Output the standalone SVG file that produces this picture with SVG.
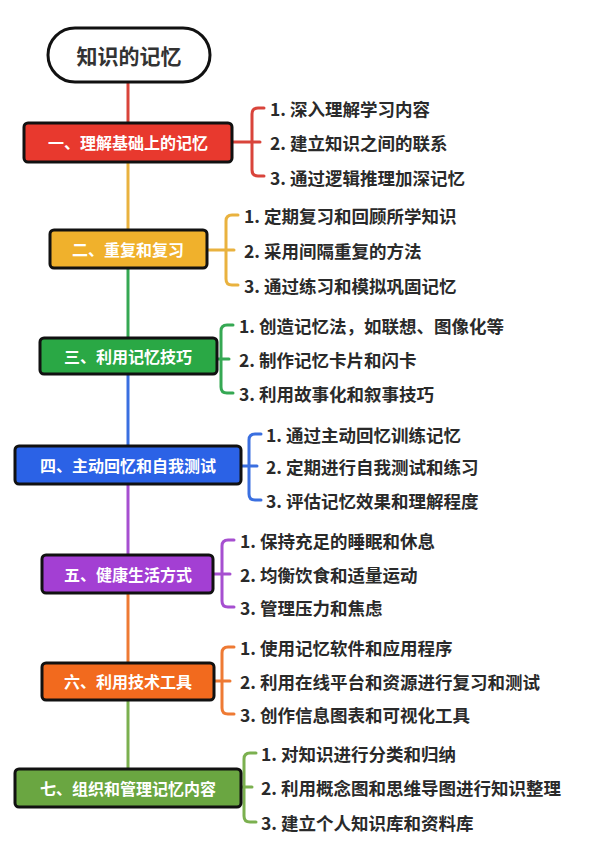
<svg xmlns="http://www.w3.org/2000/svg" width="600" height="854" viewBox="0 0 600 854">
<style>
text{font-family:"Noto Sans CJK SC","Noto Sans",sans-serif;font-weight:bold}
.box{stroke:#111;stroke-width:3}
.t{fill:#fff;font-size:16px;text-anchor:middle;dominant-baseline:central}
.i{fill:#2a2a2a;font-size:17.5px;dominant-baseline:central}
.c{fill:none;stroke-width:3;stroke-linecap:round}
</style>
<rect width="600" height="854" fill="#fff"/>
<g id="connectors">
<line x1="128" y1="82" x2="128" y2="124" stroke="#d9443b" stroke-width="3"/>
<line x1="128" y1="162" x2="128" y2="230" stroke="#e9b23f" stroke-width="3"/>
<line x1="128" y1="268" x2="128" y2="338" stroke="#35a853" stroke-width="3"/>
<line x1="128" y1="374" x2="128" y2="446" stroke="#3a6fe0" stroke-width="3"/>
<line x1="128" y1="484" x2="128" y2="555" stroke="#a64fd0" stroke-width="3"/>
<line x1="128" y1="593" x2="128" y2="663" stroke="#ee7a34" stroke-width="3"/>
<line x1="128" y1="700" x2="128" y2="769" stroke="#7bb04f" stroke-width="3"/>
<path class="c" stroke="#d9443b" d="M232 142H260M264 108h-6q-6 0-6 6v56q0 6 6 6h6"/>
<path class="c" stroke="#e9b23f" d="M207 250H234M238 215h-6q-6 0-6 6v58q0 6 6 6h6"/>
<path class="c" stroke="#35a853" d="M217 359H229M233 325h-6q-6 0-6 6v56q0 6 6 6h6"/>
<path class="c" stroke="#3a6fe0" d="M241 466H257M261 434h-6q-6 0-6 6v54q0 6 6 6h6"/>
<path class="c" stroke="#a64fd0" d="M213 574H230M234 540h-6q-6 0-6 6v55q0 6 6 6h6"/>
<path class="c" stroke="#ee7a34" d="M214 681H230M234 647h-6q-6 0-6 6v55q0 6 6 6h6"/>
<path class="c" stroke="#7bb04f" d="M241 787H252M256 753h-6q-6 0-6 6v57q0 6 6 6h6"/>
</g>
<g id="root"><rect x="48" y="28" width="162" height="54" rx="27" fill="#fff" stroke="#111" stroke-width="3"/><text x="129" y="55" font-size="21" fill="#333" text-anchor="middle" dominant-baseline="central">知识的记忆</text></g>
<g id="n1"><rect class="box" x="24" y="123" width="208" height="39" rx="4" fill="#e8392e"/><text class="t" x="128" y="142">一、理解基础上的记忆</text>
<text class="i" x="270" y="108">1. 深入理解学习内容</text><text class="i" x="270" y="142">2. 建立知识之间的联系</text><text class="i" x="270" y="177">3. 通过逻辑推理加深记忆</text></g>
<g id="n2"><rect class="box" x="50" y="230" width="157" height="38" rx="4" fill="#f0b12c"/><text class="t" x="128" y="249">二、重复和复习</text>
<text class="i" x="244" y="215">1. 定期复习和回顾所学知识</text><text class="i" x="244" y="250">2. 采用间隔重复的方法</text><text class="i" x="244" y="285">3. 通过练习和模拟巩固记忆</text></g>
<g id="n3"><rect class="box" x="40" y="338" width="177" height="36" rx="4" fill="#2aa845"/><text class="t" x="128" y="356">三、利用记忆技巧</text>
<text class="i" x="239" y="325">1. 创造记忆法，如联想、图像化等</text><text class="i" x="239" y="359">2. 制作记忆卡片和闪卡</text><text class="i" x="239" y="393">3. 利用故事化和叙事技巧</text></g>
<g id="n4"><rect class="box" x="15" y="446" width="226" height="38" rx="4" fill="#2b62e6"/><text class="t" x="128" y="465">四、主动回忆和自我测试</text>
<text class="i" x="266" y="434">1. 通过主动回忆训练记忆</text><text class="i" x="266" y="466">2. 定期进行自我测试和练习</text><text class="i" x="266" y="500">3. 评估记忆效果和理解程度</text></g>
<g id="n5"><rect class="box" x="42" y="555" width="171" height="38" rx="4" fill="#a33fd3"/><text class="t" x="128" y="574">五、健康生活方式</text>
<text class="i" x="240" y="540">1. 保持充足的睡眠和休息</text><text class="i" x="240" y="574">2. 均衡饮食和适量运动</text><text class="i" x="240" y="607">3. 管理压力和焦虑</text></g>
<g id="n6"><rect class="box" x="42" y="663" width="172" height="37" rx="4" fill="#f26a1e"/><text class="t" x="128" y="681">六、利用技术工具</text>
<text class="i" x="240" y="647">1. 使用记忆软件和应用程序</text><text class="i" x="240" y="681">2. 利用在线平台和资源进行复习和测试</text><text class="i" x="240" y="714">3. 创作信息图表和可视化工具</text></g>
<g id="n7"><rect class="box" x="15" y="769" width="226" height="38" rx="4" fill="#6aa641"/><text class="t" x="128" y="788">七、组织和管理记忆内容</text>
<text class="i" x="261" y="753">1. 对知识进行分类和归纳</text><text class="i" x="261" y="787">2. 利用概念图和思维导图进行知识整理</text><text class="i" x="261" y="822">3. 建立个人知识库和资料库</text></g>
</svg>
